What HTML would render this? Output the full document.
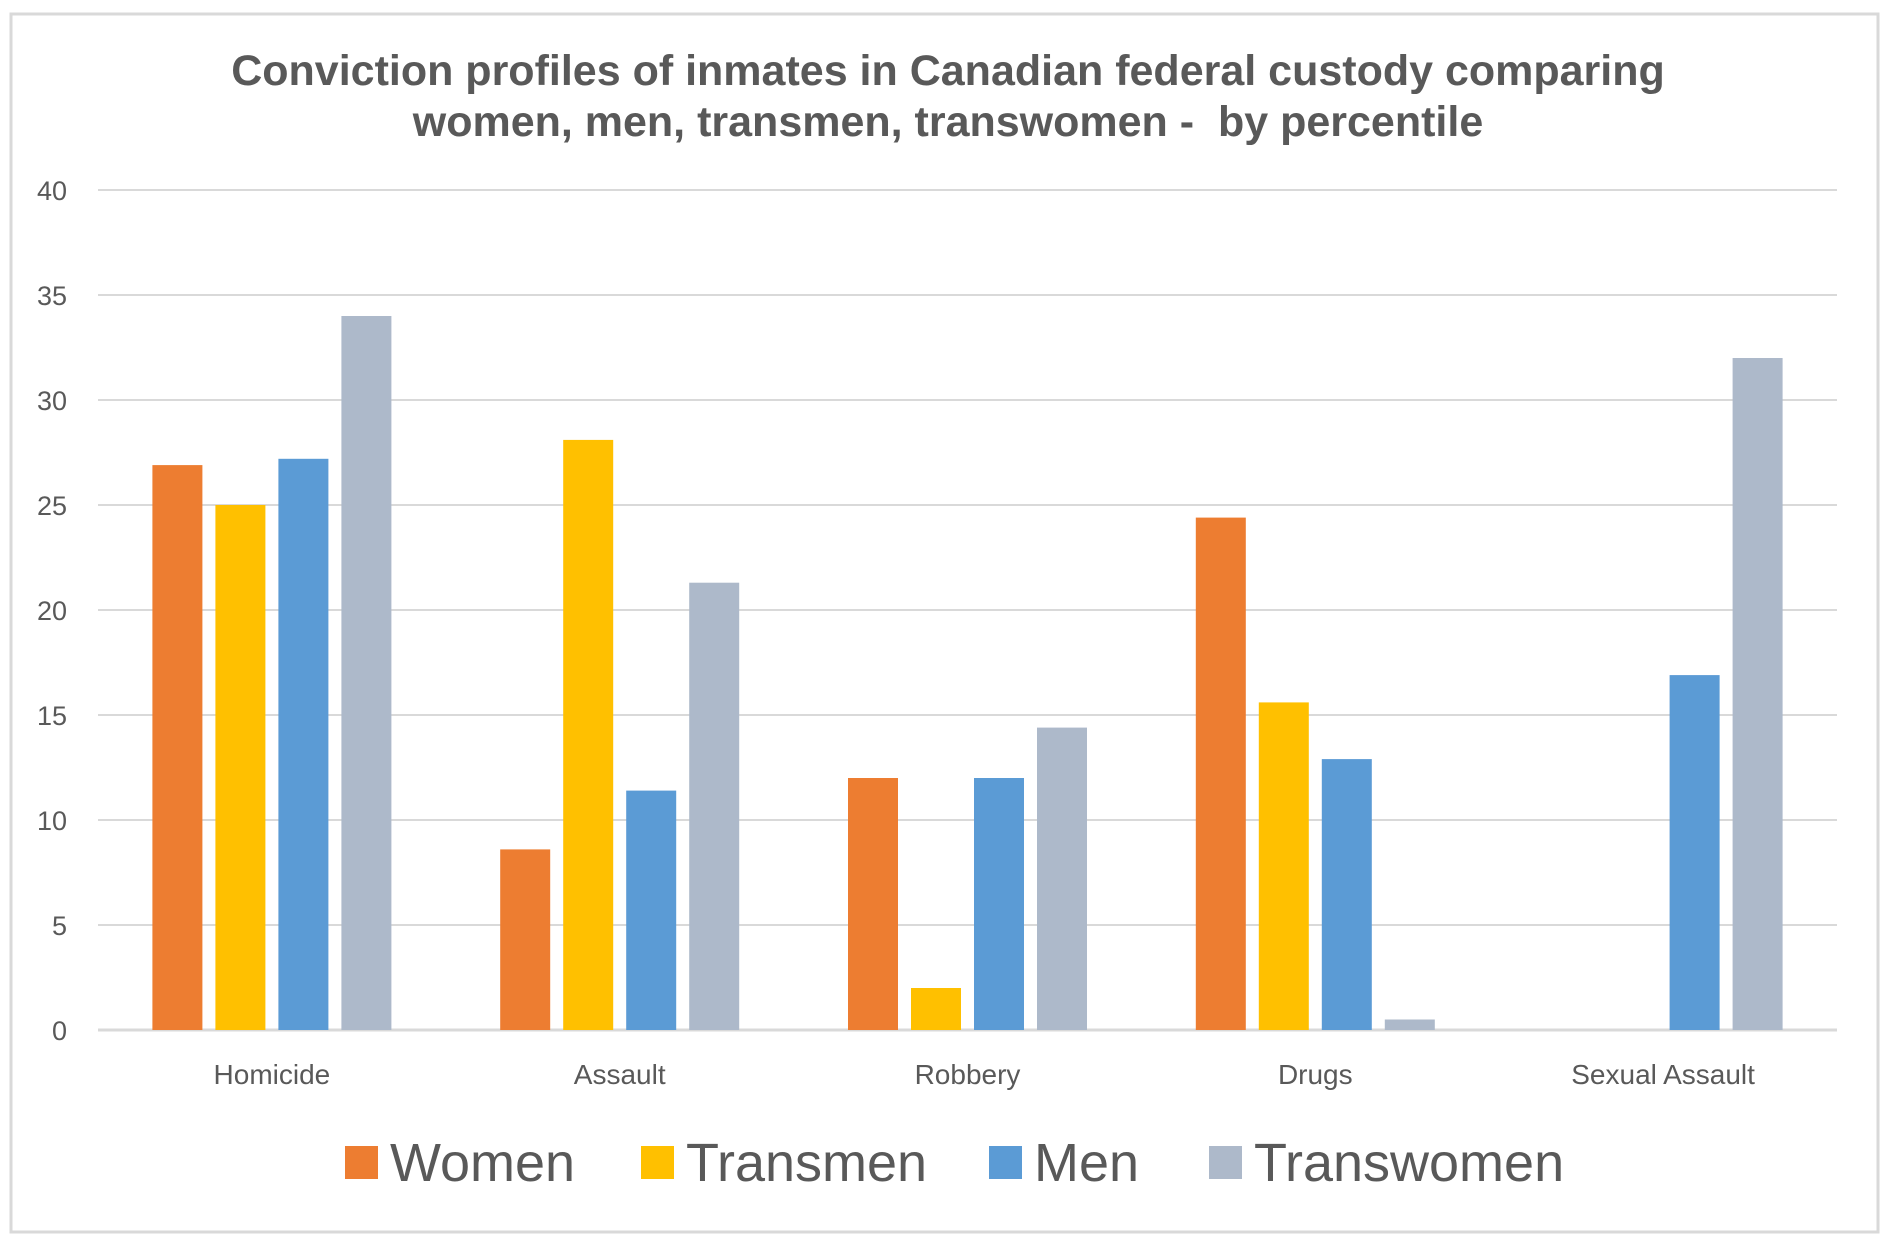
<!DOCTYPE html>
<html><head><meta charset="utf-8"><style>
html,body{margin:0;padding:0;background:#fff;}
svg{display:block;font-family:"Liberation Sans",sans-serif;}
</style></head><body>
<svg id="chart" width="1896" height="1254" viewBox="0 0 1896 1254" xmlns="http://www.w3.org/2000/svg">
<rect x="11" y="14" width="1867" height="1218" fill="#fff" stroke="#d9d9d9" stroke-width="3"/>
<text x="948" y="85" text-anchor="middle" font-size="43" font-weight="bold" fill="#595959">Conviction profiles of inmates in Canadian federal custody comparing</text>
<text x="948" y="136" text-anchor="middle" font-size="43" font-weight="bold" fill="#595959">women, men, transmen, transwomen - &#160;by percentile</text>
<g id="grid"></g><g id="bars"></g><g id="labels"></g><g id="legend"></g>
</svg>
<script>
const categories = ["Homicide","Assault","Robbery","Drugs","Sexual Assault"];
const women = [26.9, 8.6, 12, 24.4, 0];
const transmen = [25, 28.1, 2, 15.6, 0];
const men = [27.2, 11.4, 12, 12.9, 16.9];
const transwomen = [34, 21.3, 14.4, 0.5, 32];
const yTicks = [0,5,10,15,20,25,30,35,40];
const seriesNames = ["Women","Transmen","Men","Transwomen"];
const colors = ["#ed7d31","#ffc000","#5b9bd5","#adb9ca"];
const NS="http://www.w3.org/2000/svg";
const L=98,R=1837,T=190,B=1030,yMax=40;
function y(v){return B-(v/yMax)*(B-T);}
const cw=(R-L)/categories.length;
function cx(i){return L+cw*(i+0.5);}
function mk(tag,attrs,parent){const e=document.createElementNS(NS,tag);for(const k in attrs)e.setAttribute(k,attrs[k]);parent.appendChild(e);return e;}
const grid=document.getElementById('grid'),bars=document.getElementById('bars'),labels=document.getElementById('labels'),legend=document.getElementById('legend');
yTicks.forEach(t=>{
  const ln=mk('line',{x1:L,x2:R,y1:y(t),y2:y(t),stroke:'#d9d9d9','stroke-width':2},grid);
  
  
  const tx=mk('text',{x:67,y:y(t)+10,'text-anchor':'end','font-size':27,fill:'#595959'},labels);
  tx.textContent=t;
  
  
});
const series=[women,transmen,men,transwomen];
const bw=50,gap=13,gw=4*bw+3*gap;
categories.forEach((c,i)=>{
  series.forEach((s,j)=>{
    const x0=cx(i)-gw/2+j*(bw+gap);
    const r=mk('rect',{x:x0,y:y(s[i]),width:bw,height:B-y(s[i]),fill:colors[j]},bars);
    
    
  });
  const tx=mk('text',{x:cx(i),y:1084,'text-anchor':'middle','font-size':28,fill:'#595959'},labels);
  tx.textContent=c;
  
  
});
const ax=mk('line',{x1:L,x2:R,y1:B,y2:B,stroke:'#d9d9d9','stroke-width':3},grid);


const legX=[345,641,989,1209];
seriesNames.forEach((n,j)=>{
  const sq=mk('rect',{x:legX[j],y:1146,width:33,height:33,fill:colors[j]},legend);
  
  
  const tx=mk('text',{x:legX[j]+45,y:1181,'font-size':54,fill:'#595959'},legend);
  tx.textContent=n;
  
  
});
</script>
</body></html>
